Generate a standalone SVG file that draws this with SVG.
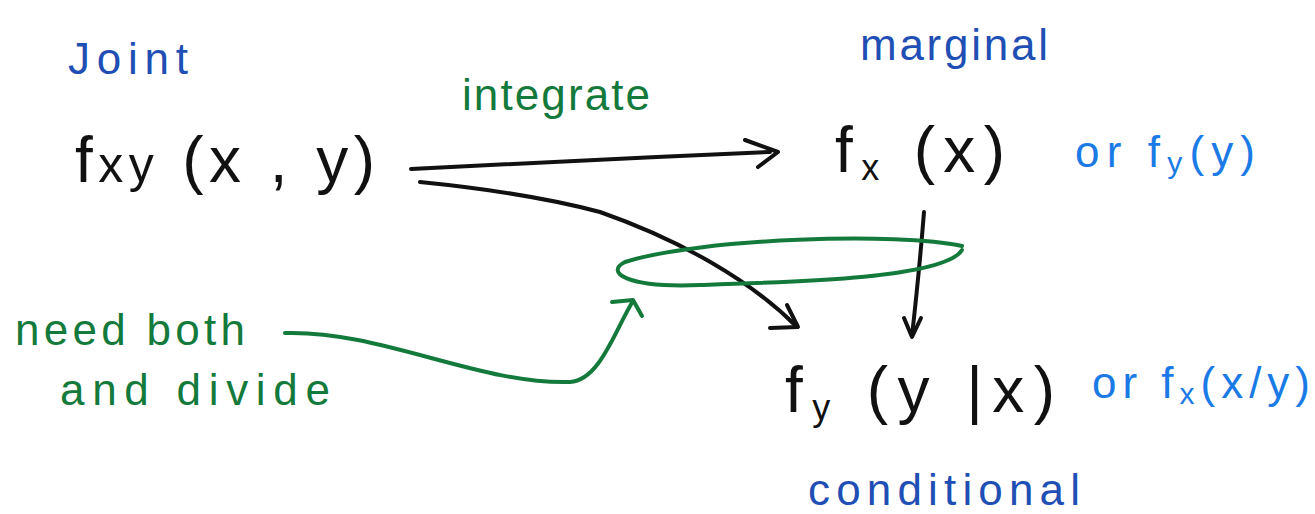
<svg xmlns="http://www.w3.org/2000/svg" width="1315" height="514" viewBox="0 0 1315 514">
<style>
text{font-family:"Liberation Sans","DejaVu Sans",sans-serif}
.blk{fill:#111;font-size:64px}
.blue{fill:#1f4fb4;font-size:44px}
.lb{fill:#1a7ae6;font-size:44px}
.grn{fill:#137a3c;font-size:44px}
.cb{fill:none;stroke:#111;stroke-width:4;stroke-linecap:round;stroke-linejoin:round}
.cg{fill:none;stroke:#137a3c;stroke-width:4;stroke-linecap:round;stroke-linejoin:round}
</style>
<rect width="1315" height="514" fill="#fff"/>
<g id="joint">
<text class="blue" x="68" y="74" textLength="120" lengthAdjust="spacing">Joint</text>
<text class="blk" x="75" y="182" textLength="300" lengthAdjust="spacing">f<tspan font-size="50">xy</tspan> (x , y)</text>
</g>
<g id="marginal">
<text class="blue" x="860" y="60" textLength="188" lengthAdjust="spacing">marginal</text>
<text class="blk" x="835" y="172" textLength="170" lengthAdjust="spacing">f<tspan font-size="36" dy="8">x</tspan><tspan dy="-8"> (x)</tspan></text>
<text class="lb" x="1075" y="167" textLength="180" lengthAdjust="spacing">or f<tspan font-size="30" dy="6">y</tspan><tspan dy="-6">(y)</tspan></text>
</g>
<g id="conditional">
<text class="blk" x="785" y="412" textLength="270" lengthAdjust="spacing">f<tspan font-size="36" dy="8">y</tspan><tspan dy="-8"> (y |x)</tspan></text>
<text class="lb" x="1092" y="398" textLength="218" lengthAdjust="spacing">or f<tspan font-size="30" dy="6">x</tspan><tspan dy="-6">(x/y)</tspan></text>
<text class="blue" x="808" y="505" textLength="272" lengthAdjust="spacing">conditional</text>
</g>
<g id="note">
<text class="grn" x="15" y="345" textLength="230" lengthAdjust="spacing">need both</text>
<text class="grn" x="60" y="405" textLength="270" lengthAdjust="spacing">and divide</text>
</g>
<g id="label-integrate">
<text class="grn" x="462" y="110" textLength="188" lengthAdjust="spacing">integrate</text>
</g>
<g id="connectors">
<path class="cb" d="M411,169 C520,163 650,157 770,152"/>
<path class="cb" d="M745,140 L778,152 L758,167"/>
<path class="cb" d="M420,182 C480,188 540,196 600,212 C680,240 750,280 796,326"/>
<path class="cb" d="M787,305 L798,327 L770,328"/>
<path class="cb" d="M924,212 C921,250 916,300 912,336"/>
<path class="cb" d="M904,318 L912,337 L921,318"/>
<path class="cg" d="M962,246 C900,232 700,238 625,262 C605,272 625,288 700,285 C800,282 945,278 962,250"/>
<path class="cg" d="M285,333 C380,330 480,385 570,382 C600,380 615,330 633,301"/>
<path class="cg" d="M612,302 L633,300 L642,316"/>
</g>
</svg>
